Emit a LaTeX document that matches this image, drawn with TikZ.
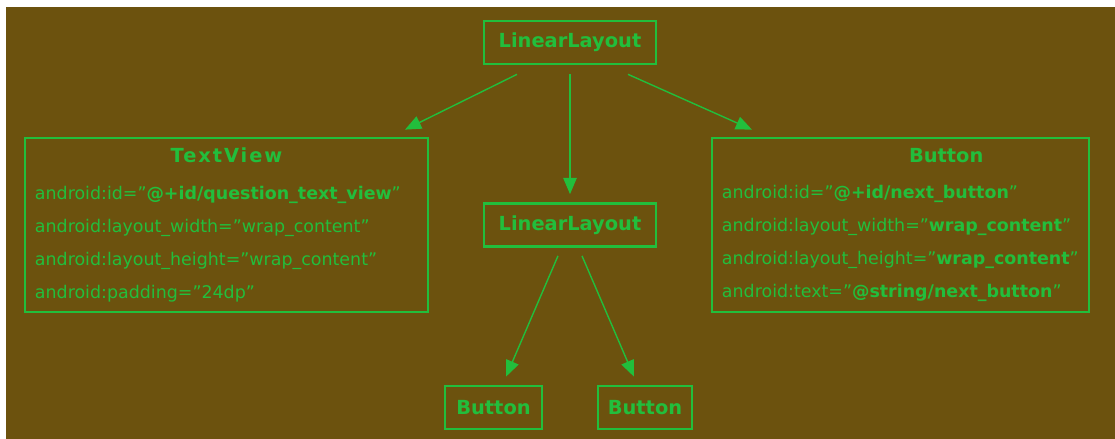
\documentclass[tikz,border=0pt]{standalone}
\usepackage{fontspec}
\setmainfont{DejaVu Sans}
\usetikzlibrary{arrows.meta,calc,positioning}
\definecolor{bgbrown}{RGB}{108,82,14}
\definecolor{nodegreen}{RGB}{34,190,60}
\newcommand{\attrfont}{\fontsize{12.4}{23.5}\selectfont}
\newcommand{\headfont}{\fontsize{13.8}{16}\selectfont\bfseries}

\begin{document}
\begin{tikzpicture}[x=0.025cm, y=-0.025cm,
    every node/.style={text=nodegreen},
    viewbox/.style={draw=nodegreen, line width=1.9pt, rectangle, minimum height=1.075cm, inner sep=0pt, font=\headfont},
    attrbox/.style={draw=nodegreen, line width=1.9pt, rectangle, minimum height=4.35cm, inner xsep=0.25cm, align=left, font=\attrfont},
    link/.style={draw=nodegreen, line width=1pt, -{Triangle[length=11.5pt,width=9.5pt]}}]
  % page and background
  \useasboundingbox (0,0) rectangle (1115,439);
  \fill[white] (0,0) rectangle (1115,439);
  \fill[bgbrown] (6,7) rectangle (1115,439);

  \node[viewbox, minimum width=4.3cm] (root) at (570,42.5) {LinearLayout};

  \node[attrbox, minimum width=10.075cm, text width=9.575cm] (tv) at (226.5,225)
    {\makebox[\linewidth][c]{\headfont\addfontfeatures{LetterSpace=10}TextView}\\[2.4pt]
     android:id="\textbf{@+id/question\_text\_view}"\\
     android:layout\_width="wrap\_content"\\
     android:layout\_height="wrap\_content"\\
     android:padding="24dp"};

  \node[viewbox, minimum width=4.3cm] (inner) at (570,225) {LinearLayout};

  \node[attrbox, minimum width=9.425cm, text width=8.925cm] (nb) at (900.5,225)
    {\makebox[\linewidth][c]{\hspace*{65pt}\headfont Button}\\[2.4pt]
     android:id="\textbf{@+id/next\_button}"\\
     android:layout\_width="\textbf{wrap\_content}"\\
     android:layout\_height="\textbf{wrap\_content}"\\
     android:text="\textbf{@string/next\_button}"};

  \node[viewbox, minimum width=2.425cm] (b1) at (493.5,407.5) {Button};
  \node[viewbox, minimum width=2.35cm] (b2) at (645,407.5) {Button};

  % connectors
  \draw[link] ($(root.south)+(-53,9)$) -- ($(tv.north)+(178.5,-7)$);
  \draw[link] ($(root.south)+(0,9)$) -- ($(inner.north)+(0,-8)$);
  \draw[link] ($(root.south)+(58,9)$) -- ($(nb.north)+(-148.5,-7)$);
  \draw[link] ($(inner.south)+(-12,8)$) -- ($(b1.north)+(12.5,-8)$);
  \draw[link] ($(inner.south)+(12,8)$) -- ($(b2.north)+(-11,-8)$);
\end{tikzpicture}
\end{document}
